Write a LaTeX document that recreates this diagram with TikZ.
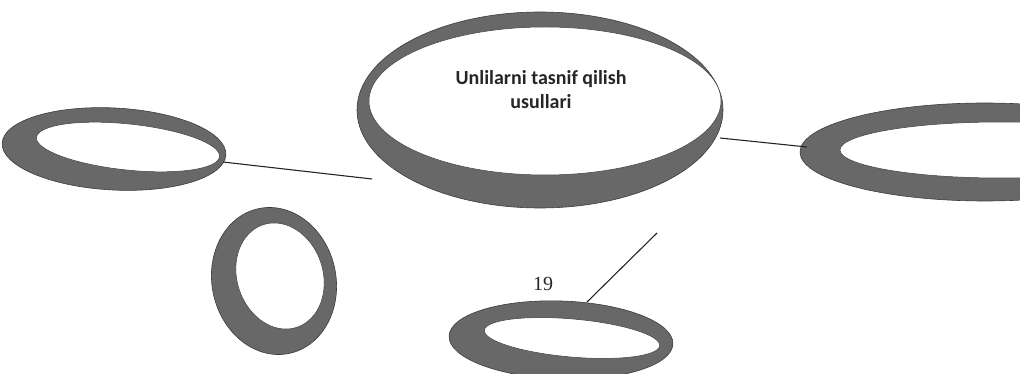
\documentclass[tikz,border=0pt]{standalone}
\usepackage{fontspec}
\setmainfont{Liberation Serif}
\newfontfamily\labelfont{Carlito}
\usetikzlibrary{shapes.geometric}
\definecolor{ringgray}{RGB}{104,104,104}
\definecolor{ringedge}{RGB}{60,60,60}
\tikzset{
  ring/.style={ellipse, fill=ringgray, draw=ringedge, line width=0.6pt, inner sep=0pt},
  hole/.style={ellipse, fill=white, draw=ringedge, line width=0.5pt, inner sep=0pt},
  link/.style={draw=black!85, line width=1.1pt},
  title/.style={font=\labelfont\bfseries\fontsize{20}{24}\selectfont, align=center, text=black!85},
  pagenum/.style={font=\fontsize{20}{22}\selectfont, text=black!85}
}
\begin{document}
\begin{tikzpicture}[x=1pt,y=-1pt]
\useasboundingbox (0,0) rectangle (1020,374);
\clip (0,0) rectangle (1020,374);
% central
\node[ring, minimum width=366pt, minimum height=196pt] (main) at (540,110) {};
\node[hole, minimum width=352pt, minimum height=148pt] (mainhole) at (545,101) {};
\node[title] (maintext) at (541,90) {Unlilarni tasnif qilish\\usullari};
% left
\node[ring, minimum width=224pt, minimum height=82pt, rotate=-3] (left) at (114,149) {};
\node[hole, minimum width=184pt, minimum height=46pt, rotate=-6] (lefthole) at (128,147) {};
% right
\node[ring, minimum width=370pt, minimum height=98pt] (right) at (985,152) {};
\node[hole, minimum width=320pt, minimum height=56pt] (righthole) at (1000,150) {};
% lower left
\node[ring, minimum width=124pt, minimum height=148pt, rotate=12] (lowleft) at (274,281) {};
\node[hole, minimum width=86pt, minimum height=108pt, rotate=18] (lowlefthole) at (280,276) {};
% bottom
\node[ring, minimum width=224pt, minimum height=78pt, rotate=-2] (bottom) at (561,340) {};
\node[hole, minimum width=176pt, minimum height=38pt, rotate=-5] (bottomhole) at (572,338) {};
% page number
\node[pagenum] (num) at (543,284) {19};
% connector ends
\coordinate (l1) at (223,162);
\coordinate (l2) at (372,179);
\coordinate (r1) at (720,138);
\coordinate (r2) at (807,147);
\coordinate (b1) at (587,302);
\coordinate (b2) at (657,233);
\draw[link] (l1) -- (l2);
\draw[link] (r1) -- (r2);
\draw[link] (b1) -- (b2);
\end{tikzpicture}
\end{document}
